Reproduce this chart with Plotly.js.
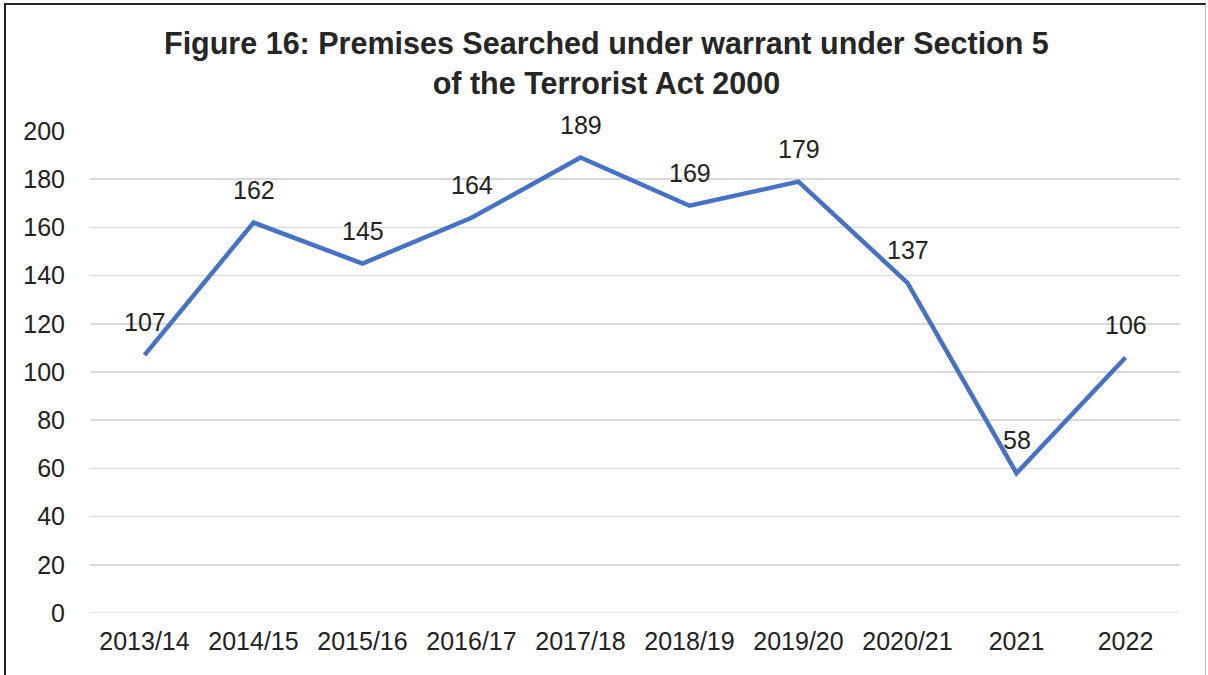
<!DOCTYPE html>
<html><head><meta charset="utf-8">
<script src="https://cdn.plot.ly/plotly-3.0.1.min.js"></script>
<style>
html,body{margin:0;padding:0;background:#fff;}
#chart{width:1208px;height:675px;position:relative;}
#frame{position:absolute;left:4px;top:3px;width:1199px;height:700px;border-left:2px solid #222;border-top:2px solid #222;border-right:1px solid #bbb;pointer-events:none;}
</style></head>
<body>
<div id="chart"></div>
<div id="frame"></div>
<script>
const categories = ["2013/14","2014/15","2015/16","2016/17","2017/18","2018/19","2019/20","2020/21","2021","2022"];
const premises = [107,162,145,164,189,169,179,137,58,106];
const yTicks = [0,20,40,60,80,100,120,140,160,180,200];

const FONT = 'Liberation Sans, Arial, sans-serif';
const trace = {
  x: categories, y: premises, type: 'scatter', mode: 'lines',
  line: {color: '#4472C4', width: 4.5}, hoverinfo: 'x+y'
};
const annotations = categories.map((c,i)=>({
  x: i, y: premises[i], xref:'x', yref:'y', text: String(premises[i]),
  showarrow:false, yshift:33, font:{family:FONT, size:25, color:'#222'}
}));
const layout = {
  width:1208, height:675,
  margin:{l:90, r:28, t:131, b:62},
  paper_bgcolor:'#fff', plot_bgcolor:'#fff',
  showlegend:false,
  title:{text:'<b>Figure 16: Premises Searched under warrant under Section 5<br>of the Terrorist Act 2000</b>',
    font:{family:FONT, size:30.5, color:'#262626'},
    x:0.502, xref:'container', xanchor:'center', y:1-54/675, yref:'container', yanchor:'middle'},
  xaxis:{type:'category', range:[-0.5,9.5], showgrid:false, zeroline:false, showline:false, ticks:'',
    tickfont:{family:FONT, size:25, color:'#222'}, ticklabelstandoff:11},
  yaxis:{range:[0,200], tickvals:yTicks, ticktext:yTicks.map(String), showgrid:true, gridcolor:'#d9d9d9', gridwidth:1.5,
    zeroline:false, showline:false, ticks:'', ticklabelstandoff:24,
    tickfont:{family:FONT, size:25, color:'#222'}},
  shapes:[{type:'line', xref:'paper', yref:'y', x0:0, x1:1, y0:0, y1:0, line:{color:'#d9d9d9', width:1.5}, layer:'below'}],
  annotations: annotations
};
Plotly.newPlot('chart',[trace],layout,{displayModeBar:false, staticPlot:true});
</script>
</body></html>
